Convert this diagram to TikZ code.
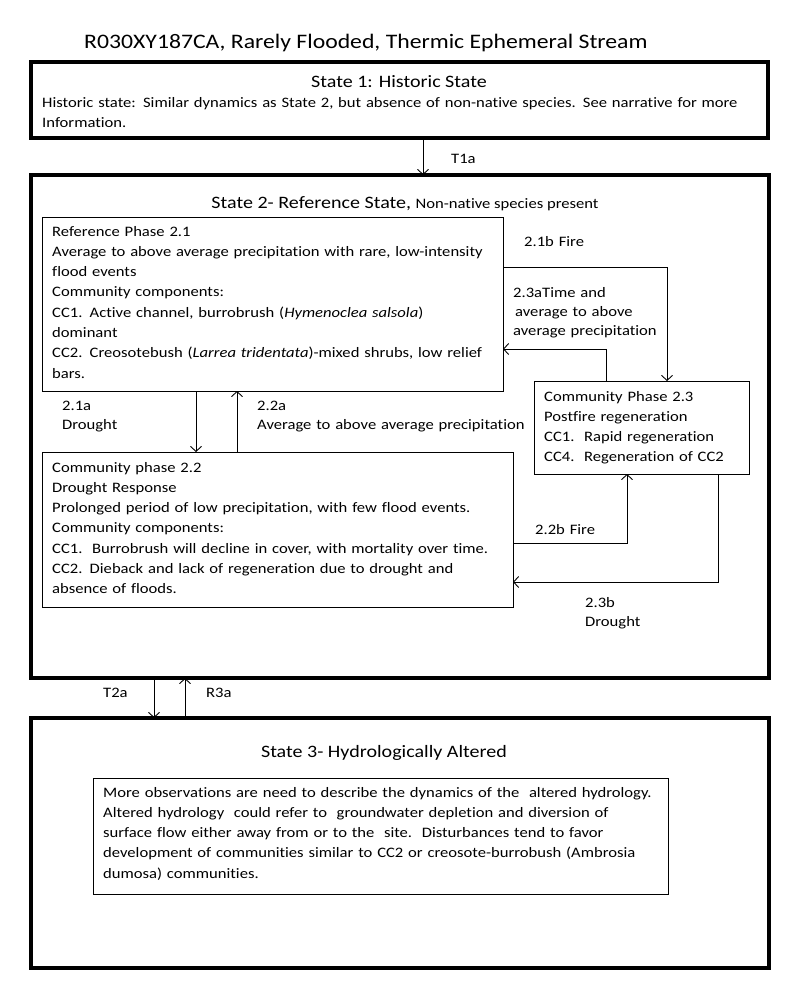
\documentclass[tikz,border=0pt]{standalone}
\usepackage{fontspec}
\setmainfont{Carlito}[FakeStretch=1.15, Ligatures=NoCommon]
\usetikzlibrary{arrows.meta}
\begin{document}
\begin{tikzpicture}[x=1bp,y=-1bp,
  thickbox/.style={draw, line width=3.2bp, inner sep=0pt, outer sep=0pt, anchor=north west},
  thinbox/.style={draw, line width=0.9bp, inner sep=0pt, outer sep=0pt, anchor=north west},
  body/.style={font=\fontsize{14.5}{20.4}\selectfont, anchor=base west, inner sep=0pt, align=left, text width=#1},
  body/.default=500bp,
  lbl/.style={font=\fontsize{14.5}{19.5}\selectfont, anchor=base west, inner sep=0pt, align=left, text width=#1},
  lbl/.default=300bp,
  head/.style={font=\fontsize{17.5}{21}\selectfont, anchor=base, inner sep=0pt},
  arr/.style={line width=0.9bp, -{Straight Barb[length=5bp,width=11bp,line width=0.9bp]}}
]
\useasboundingbox (0,0) rectangle (800,985);
\fill[white] (0,0) rectangle (800,985);

% title
\node[font=\fontsize{20.7}{24}\selectfont, anchor=base west, inner sep=0pt] (title) at (84,48) {R030XY187CA, Rarely Flooded, Thermic Ephemeral Stream};

% State 1
\node[thickbox, minimum width=737bp, minimum height=76bp] (s1) at (31,62) {};
\node[head] (s1h) at (399,87) {State 1: Historic State};
\node[body=730bp] (s1b) at (42,107) {Historic state: Similar dynamics as State 2, but absence of non-native species. See narrative for more\\Information.};

% State 2
\node[thickbox, minimum width=738bp, minimum height=503bp] (s2) at (31,175) {};
\node[anchor=base, inner sep=0pt] (s2h) at (405,208) {\fontsize{17.5}{21}\selectfont State 2- Reference State, \fontsize{14.5}{18}\selectfont Non-native species present};

% Phase 2.1
\node[thinbox, minimum width=461bp, minimum height=174bp] (p21) at (42,217) {};
\node[body=455bp] (p21t) at (52,236) {Reference Phase 2.1\\
Average to above average precipitation with rare, low-intensity\\
flood events\\
Community components:\\
CC1. Active channel, burrobrush (\textit{Hymenoclea salsola})\\
dominant\\
CC2. Creosotebush (\textit{Larrea tridentata})-mixed shrubs, low relief\\
bars.};

% Phase 2.2
\node[thinbox, minimum width=471bp, minimum height=155bp] (p22) at (42,452) {};
\node[body=465bp] (p22t) at (52,472) {Community phase 2.2\\
Drought Response\\
Prolonged period of low precipitation, with few flood events.\\
Community components:\\
CC1.\ \ Burrobrush will decline in cover, with mortality over time.\\
CC2. Dieback and lack of regeneration due to drought and\\
absence of floods.};

% Phase 2.3
\node[thinbox, minimum width=215bp, minimum height=93bp] (p23) at (534,381) {};
\node[body=205bp] (p23t) at (544,401) {Community Phase 2.3\\
Postfire regeneration\\
CC1.\ \ Rapid regeneration\\
CC4.\ \ Regeneration of CC2};

% State 3
\node[thickbox, minimum width=738bp, minimum height=250bp] (s3) at (31,718) {};
\node[head] (s3h) at (384,757) {State 3- Hydrologically Altered};
\node[thinbox, minimum width=575bp, minimum height=116bp] (s3b) at (93,778) {};
\node[body=565bp] (s3t) at (103,797) {More observations are need to describe the dynamics of the\ \ altered hydrology.\\
Altered hydrology\ \ could refer to\ \ groundwater depletion and diversion of\\
surface flow either away from or to the\ \ site.\ \ Disturbances tend to favor\\
development of communities similar to CC2 or creosote-burrobush (Ambrosia\\
dumosa) communities.};

% coordinates for connectors
\coordinate (kT1) at (423,0);
\coordinate (kT2) at (154,0);
\coordinate (kR3) at (185,0);
\coordinate (k21a) at (196,0);
\coordinate (k22a) at (237,0);
\coordinate (k21b) at (667,267);
\coordinate (k23a) at (606,349);
\coordinate (k22b) at (627,543);
\coordinate (k23b) at (718,582);

% connectors
\draw[arr] (kT1 |- s1.south) -- (kT1 |- s2.north);
\draw[arr] (kT2 |- s2.south) -- (kT2 |- s3.north);
\draw[arr] (kR3 |- s3.north) -- (kR3 |- s2.south);
\draw[arr] (k21a |- p21.south) -- (k21a |- p22.north);
\draw[arr] (k22a |- p22.north) -- (k22a |- p21.south);
\draw[arr] (k21b -| p21.east) -- (k21b) -- (k21b |- p23.north);
\draw[arr] (k23a |- p23.north) -- (k23a) -- (k23a -| p21.east);
\draw[arr] (k22b -| p22.east) -- (k22b) -- (k22b |- p23.south);
\draw[arr] (k23b |- p23.south) -- (k23b) -- (k23b -| p22.east);

% labels
\node[lbl=60bp] (lT1) at (451,163) {T1a};
\node[lbl=60bp] (lT2) at (103,697) {T2a};
\node[lbl=60bp] (lR3) at (206,697) {R3a};
\node[lbl=100bp] (l21b) at (524,246) {2.1b Fire};
\node[lbl=180bp] (l23a) at (513,297) {2.3aTime and\\\hspace*{2bp}average to above\\average precipitation};
\node[lbl=100bp] (l21a) at (62,410) {2.1a\\Drought};
\node[lbl=300bp] (l22a) at (257,410) {2.2a\\Average to above average precipitation};
\node[lbl=100bp] (l22b) at (535,534) {2.2b Fire};
\node[lbl=100bp] (l23b) at (585,607) {2.3b\\Drought};
\end{tikzpicture}
\end{document}
